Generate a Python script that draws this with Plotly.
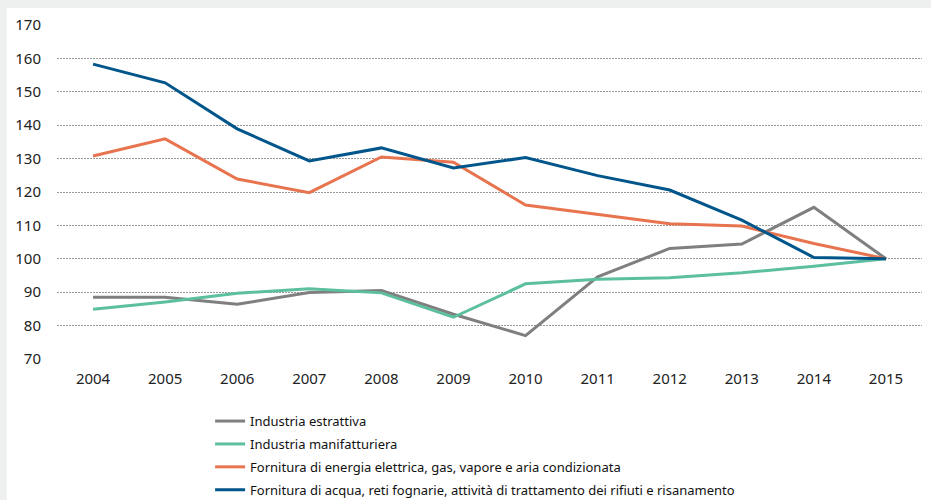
import plotly.graph_objects as go

YEARS = ["2004", "2005", "2006", "2007", "2008", "2009",
         "2010", "2011", "2012", "2013", "2014", "2015"]

ESTRATTIVA = [88.5, 88.5, 86.4, 89.9, 90.5, 83.4, 77.0, 94.6, 103.1, 104.4, 115.4, 100.0]
MANIFATTURIERA = [84.9, 87.1, 89.7, 91.0, 89.8, 82.5, 92.5, 93.9, 94.3, 95.8, 97.8, 100.0]
ENERGIA = [130.8, 135.9, 123.9, 119.8, 130.5, 128.9, 116.1, 113.3, 110.5, 109.8, 104.6, 100.0]
ACQUA = [158.3, 152.7, 138.9, 129.3, 133.2, 127.2, 130.3, 124.9, 120.6, 111.6, 100.4, 100.0]

NAMES = [
    "Industria estrattiva",
    "Industria manifatturiera",
    "Fornitura di energia elettrica, gas, vapore e aria condizionata",
    "Fornitura di acqua, reti fognarie, attività di trattamento dei rifiuti e risanamento",
]
COLORS = ["#7f7f7f", "#5cbf9f", "#e8734f", "#00568a"]

FONT = "Noto Sans"
PAGE_GREY = "#eef0ef"

fig = go.Figure()
for i, (name, vals) in enumerate(zip(NAMES, [ESTRATTIVA, MANIFATTURIERA, ENERGIA, ACQUA])):
    fig.add_trace(go.Scatter(
        x=YEARS, y=vals, mode="lines", name=name, legendgroup=f"g{i}",
        line=dict(color=COLORS[i], width=3)))

# light grey page strips on the left and top of the white card
fig.add_shape(type="rect", xref="paper", yref="paper",
              x0=-0.2, x1=-0.058, y0=-0.6, y1=1.2,
              fillcolor=PAGE_GREY, line=dict(width=0), layer="below")
fig.add_shape(type="rect", xref="paper", yref="paper",
              x0=-0.2, x1=1.2, y0=1.051, y1=1.2,
              fillcolor=PAGE_GREY, line=dict(width=0), layer="below")

fig.update_layout(
    width=931, height=500,
    margin=dict(l=57, r=9, t=25, b=141, autoexpand=False),
    paper_bgcolor="white", plot_bgcolor="white",
    font=dict(family=FONT, color="#222222", size=15),
    xaxis=dict(type="category", range=[-0.5, 11.5], showgrid=False,
               showline=False, ticks="outside", ticklen=6,
               tickcolor="rgba(0,0,0,0)", tickfont=dict(size=15)),
    yaxis=dict(range=[70, 170], dtick=10, showgrid=True,
               gridcolor="#9a9a9a", griddash="2px,1px", gridwidth=1,
               zeroline=False, showline=False, ticks="outside",
               ticklen=12, tickcolor="rgba(0,0,0,0)", tickfont=dict(size=15)),
    legend=dict(x=0.177, xanchor="left", y=-0.141, yanchor="top",
                bgcolor="rgba(0,0,0,0)", font=dict(size=13, color="#111111"),
                tracegroupgap=3, itemwidth=30),
    showlegend=True,
)

# drop the browser's default 8px body margin so the figure sits at (0, 0)
fig.write_html("out.html", config=dict(displayModeBar=False), post_script=(
    "document.body.style.margin='0';"
    "document.body.style.overflow='hidden';"))
